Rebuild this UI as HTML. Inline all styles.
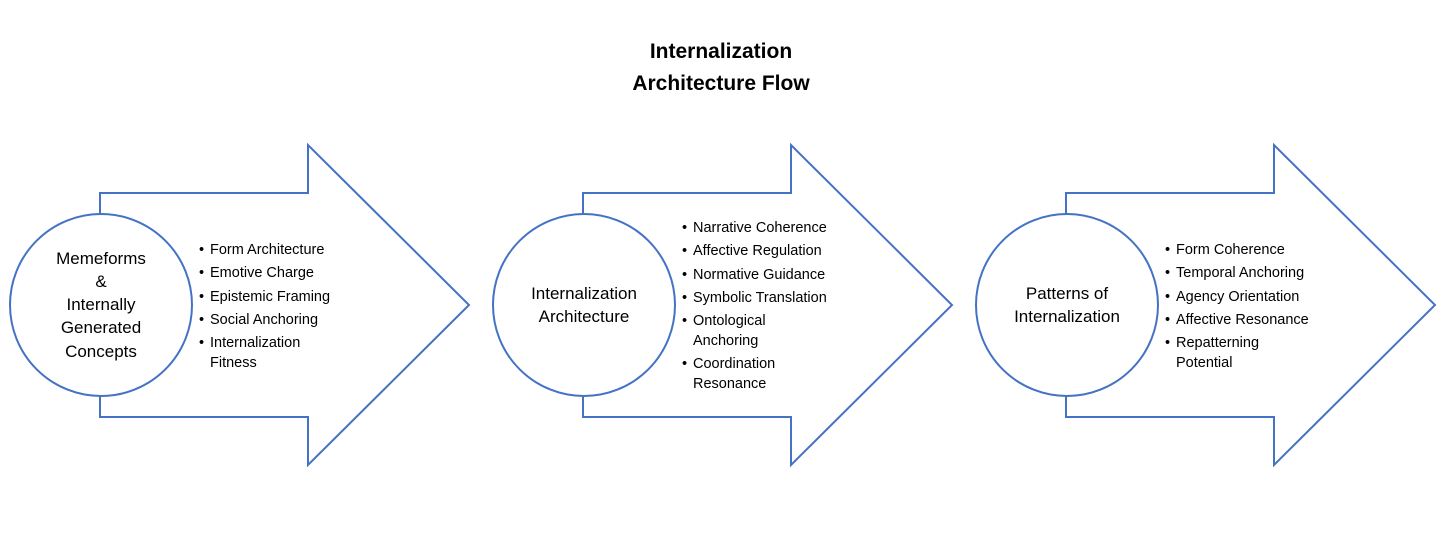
<!DOCTYPE html>
<html><head><meta charset="utf-8"><style>
html,body{margin:0;padding:0;background:#fff;}
svg{display:block;}
text{font-family:"Liberation Sans",sans-serif;fill:#000;}
.c{font-size:17px;text-anchor:middle;}
.l{font-size:14.5px;}
.t{font-size:21px;font-weight:bold;text-anchor:middle;}
</style></head><body>
<svg width="1447" height="548" viewBox="0 0 1447 548" xmlns="http://www.w3.org/2000/svg">
<text class="t" x="721" y="58">Internalization</text>
<text class="t" x="721" y="90">Architecture Flow</text>
<defs>
<g id="arr">
<polygon points="100,193 308,193 308,145 469,305 308,465 308,417 100,417" fill="#fff" stroke="#4472C4" stroke-width="2"/>
<circle cx="101" cy="305" r="91" fill="#fff" stroke="#4472C4" stroke-width="2"/>
</g>
</defs>
<use href="#arr"/>
<use href="#arr" x="483"/>
<use href="#arr" x="966"/>

<text class="c" x="101" y="264">Memeforms</text>
<text class="c" x="101" y="287">&amp;</text>
<text class="c" x="101" y="310">Internally</text>
<text class="c" x="101" y="333">Generated</text>
<text class="c" x="101" y="357">Concepts</text>
<g class="l">
<text x="199" y="254">•</text><text x="210" y="254">Form Architecture</text>
<text x="199" y="277">•</text><text x="210" y="277">Emotive Charge</text>
<text x="199" y="301">•</text><text x="210" y="301">Epistemic Framing</text>
<text x="199" y="324">•</text><text x="210" y="324">Social Anchoring</text>
<text x="199" y="347">•</text><text x="210" y="347">Internalization</text>
<text x="210" y="367">Fitness</text>
</g>

<text class="c" x="584" y="299">Internalization</text>
<text class="c" x="584" y="322">Architecture</text>
<g class="l">
<text x="682" y="232">•</text><text x="693" y="232">Narrative Coherence</text>
<text x="682" y="255">•</text><text x="693" y="255">Affective Regulation</text>
<text x="682" y="279">•</text><text x="693" y="279">Normative Guidance</text>
<text x="682" y="302">•</text><text x="693" y="302">Symbolic Translation</text>
<text x="682" y="325">•</text><text x="693" y="325">Ontological</text>
<text x="693" y="345">Anchoring</text>
<text x="682" y="368">•</text><text x="693" y="368">Coordination</text>
<text x="693" y="388">Resonance</text>
</g>

<text class="c" x="1067" y="299">Patterns of</text>
<text class="c" x="1067" y="322">Internalization</text>
<g class="l">
<text x="1165" y="254">•</text><text x="1176" y="254">Form Coherence</text>
<text x="1165" y="277">•</text><text x="1176" y="277">Temporal Anchoring</text>
<text x="1165" y="301">•</text><text x="1176" y="301">Agency Orientation</text>
<text x="1165" y="324">•</text><text x="1176" y="324">Affective Resonance</text>
<text x="1165" y="347">•</text><text x="1176" y="347">Repatterning</text>
<text x="1176" y="367">Potential</text>
</g>
</svg>
</body></html>
